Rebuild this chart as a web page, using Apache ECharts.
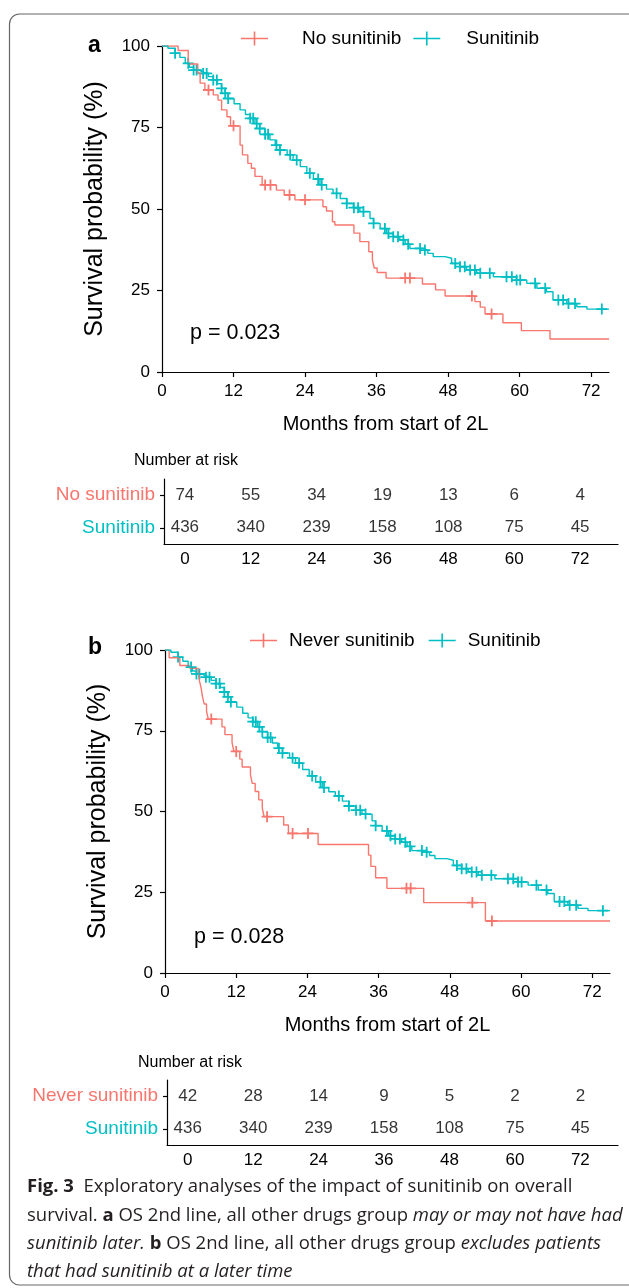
<!DOCTYPE html>
<html>
<head>
<meta charset="utf-8">
<script src="https://cdn.jsdelivr.net/npm/echarts@6/dist/echarts.min.js"></script>
<style>
  html, body { margin: 0; padding: 0; background: #fff; }
  #main { width: 629px; height: 1288px; }
</style>
</head>
<body>
<div id="main"></div>
<script>
// tick labels / table columns
var months = [0, 12, 24, 36, 48, 60, 72];

// number at risk
var riskA_no = [74, 55, 34, 19, 13, 6, 4];
var riskA_sun = [436, 340, 239, 158, 108, 75, 45];
var riskB_never = [42, 28, 14, 9, 5, 2, 2];
var riskB_sun = [436, 340, 239, 158, 108, 75, 45];

// KM curves: [month, survival %] after each drop
var survA_no = [[0,100],[2.7,98.6],[4.4,94.5],[6.0,91.7],[6.4,88.6],[7.2,86.5],[8.6,85],[9.4,83.4],
  [10,80.4],[10.9,78.3],[11.5,75.5],[13.1,69.6],[13.5,66.6],[14.4,64],[15,62.5],[15.6,60],[16.8,57.4],
  [19.2,55.8],[20.5,54.3],[22.3,52.8],[27,50.7],[27.6,49.4],[28.6,46.1],[29,45.1],[32.2,42.6],[33.2,40],
  [34.7,36.9],[35.3,34.4],[35.6,31.9],[36.1,30.5],[37.6,28.8],[43.7,27],[45.9,25.2],[47.5,23.3],
  [52.5,21.6],[53.4,19.9],[54.2,17.8],[57.2,15.1],[60.3,12.7],[65.1,10.1],[75,10.1]];

var survSun = [[0,100],[1,99.3],[2.2,97.8],[3,96.5],[3.9,94.7],[4.6,93.5],[5.3,92.6],[6.2,92],[6.9,91.6],
  [7.8,90.6],[8.6,89.6],[9.3,88.4],[10,87],[10.6,85.5],[11.1,83.9],[12.1,82.3],[13.1,80.4],[14,79],
  [14.8,77.8],[15.6,76.2],[16.4,74.7],[17.3,72.9],[18.1,71.2],[19,69.6],[19.8,68.1],[21,66.6],[22,65],
  [23.2,63],[24.3,61],[25.4,59.2],[26.5,57.4],[27.6,56.1],[28.7,54.8],[29.9,53.2],[31,51.7],[32.1,50.4],
  [33.2,49.2],[34.9,47.1],[35.5,45.6],[36.6,44],[37.7,42.5],[38.8,41.5],[39.9,40.5],[40.8,39.2],
  [41.6,37.9],[43.8,37.4],[44.6,36.4],[45.5,35.4],[47.5,34.9],[48.6,33.3],[50,32.3],[51.1,31.3],
  [52.8,30.3],[55.6,29.2],[59.5,28.2],[61.2,27.2],[62.9,25.7],[64.5,24.6],[65.6,22.1],[67.9,21],
  [69.6,20],[71.3,19.3],[75,19.3]];

var survB_never = [[0,100],[0.7,97.6],[2.5,95.2],[4.2,94.3],[5.6,93.2],[5.8,90.5],[6.1,88.1],[6.3,85.7],
  [6.6,83.3],[7.0,81],[7.3,78.6],[9.6,76.2],[10.1,73.8],[11.3,71.4],[11.6,68.6],[12.6,66.2],[13.0,63.8],
  [14.4,61.4],[14.7,58.7],[15.2,56.2],[15.8,53.6],[16.4,51],[16.7,48.4],[20,45.8],[20.8,43.2],
  [25.8,39.8],[34.3,36.5],[34.7,33],[35.5,29.5],[37.4,26.2],[43.6,21.8],[54,16.1],[75,16.1]];

// censoring times (months)
var censorA_no = [7.8, 12.0, 17.3, 18.2, 21.4, 24.0, 40.8, 41.6, 52.0, 55.3];
var censorB_never = [7.8, 12.0, 17.2, 21.5, 24.1, 40.7, 41.4, 51.8, 55.1];
var censorSun = [2.2, 4.4, 5.3, 5.8, 6.9, 7.5, 8.6, 9.2, 10, 10.6, 11.1, 14.8, 15.3, 15.9, 16.4, 17.3,
  17.8, 19.2, 19.8, 21.5, 22.6, 24.8, 26.2, 26.8, 29.3, 31, 32.2, 32.9, 33.8, 35.5, 37.4, 38, 38.8,
  39.6, 40.5, 41.3, 43.3, 44.1, 49.2, 50, 50.8, 51.7, 52.5, 53.4, 55, 57.8, 58.7, 59.5, 60.1, 62.6,
  64.3, 66.5, 67.3, 68.2, 69.3, 73.8];

var RED = "#F8766D";
var CYAN = "#00BFC4";
var FONT = "Liberation Sans";
var plusPath = "path://M4.6,0H6.4V11H4.6Z M0,4.6H11V6.4H0Z";
var legendIcon = "path://M0,6.2H27V7.8H0Z M12.7,0H14.3V14H12.7Z";

// survival value of a step curve at time t
function survAt(curve, t) {
  var s = curve[0][1];
  for (var i = 0; i < curve.length; i++) {
    if (curve[i][0] <= t) s = curve[i][1];
  }
  return s;
}
function censorPoints(curve, times) {
  return times.map(function (t) { return [t, survAt(curve, t)]; });
}
function riskPoints(names, rows) {
  var out = [];
  rows.forEach(function (row, r) {
    row.forEach(function (n, i) { out.push([months[i], names[r], n]); });
  });
  return out;
}

var blackLine = { color: "#000", width: 1.2 };
var labelStyle = { color: "#000", fontSize: 17, fontFamily: FONT, fontWeight: "normal" };

function kmX(gridIndex) {
  return {
    gridIndex: gridIndex, type: "value", min: 0, max: 75,
    axisLine: { onZero: false, lineStyle: blackLine },
    axisTick: { length: 5, lineStyle: blackLine, customValues: months },
    axisLabel: Object.assign({ margin: 11, customValues: months }, labelStyle),
    splitLine: { show: false },
    name: "Months from start of 2L", nameLocation: "middle", nameGap: 42,
    nameTextStyle: { color: "#000", fontSize: 20, fontFamily: FONT }
  };
}
function kmY(gridIndex) {
  return {
    gridIndex: gridIndex, type: "value", min: 0, max: 100, interval: 25,
    axisLine: { show: true, onZero: false, lineStyle: blackLine },
    axisTick: { show: true, length: 5, lineStyle: blackLine },
    axisLabel: Object.assign({ margin: 12 }, labelStyle),
    splitLine: { show: false },
    name: "Survival probability (%)", nameLocation: "middle", nameGap: 54,
    nameTextStyle: { color: "#000", fontSize: 25, fontFamily: FONT }
  };
}
function tableX(gridIndex) {
  return {
    gridIndex: gridIndex, type: "value", min: -3.8, max: 78.9,
    axisLine: { show: true, onZero: false, lineStyle: blackLine },
    axisTick: { length: 5, lineStyle: blackLine, customValues: months },
    axisLabel: Object.assign({ margin: 6.5, customValues: months }, labelStyle),
    splitLine: { show: false }
  };
}
function tableY(gridIndex, names) {
  return {
    gridIndex: gridIndex, type: "category", data: names,
    axisLine: { show: true, onZero: false, lineStyle: blackLine },
    axisTick: { show: true, alignWithLabel: true, length: 4, lineStyle: blackLine },
    axisLabel: {
      margin: 9,
      formatter: function (v) { return "{" + (v === "Sunitinib" ? "c" : "r") + "|" + v + "}"; },
      rich: {
        r: { color: RED, fontSize: 19, fontFamily: FONT },
        c: { color: CYAN, fontSize: 19, fontFamily: FONT }
      }
    }
  };
}
function kmLine(name, data, color, xi) {
  return {
    name: name, type: "line", step: "end", data: data, symbol: "none",
    xAxisIndex: xi, yAxisIndex: xi,
    lineStyle: { color: color, width: 1.4 }, itemStyle: { color: color }
  };
}
function censor(name, data, color, xi) {
  return {
    name: name, type: "scatter", data: data, symbol: plusPath, symbolSize: 11,
    xAxisIndex: xi, yAxisIndex: xi, itemStyle: { color: color, opacity: 1 }
  };
}
function riskSeries(data, xi) {
  return {
    type: "scatter", data: data, symbolSize: 0, xAxisIndex: xi, yAxisIndex: xi,
    label: {
      show: true, position: "inside", color: "#000", fontSize: 17, fontFamily: FONT,
      formatter: function (p) { return p.value[2]; }
    }
  };
}
function txt(text, x, y, size, extra) {
  return {
    type: "text", x: x, y: y,
    style: Object.assign({
      text: text, fill: "#000", fontSize: size, fontFamily: FONT,
      textVerticalAlign: "middle"
    }, extra || {})
  };
}

var CAP = 18.5;
var capRich = {
  b: { fontWeight: "bold", fontSize: CAP, fontFamily: "Open Sans", fill: "#231f20" },
  i: { fontStyle: "italic", fontSize: CAP, fontFamily: "Open Sans", fill: "#231f20" }
};
function capLine(text, y) {
  return {
    type: "text", x: 27, y: y,
    style: {
      text: text, fontSize: CAP, fontFamily: "Open Sans", fill: "#231f20",
      textVerticalAlign: "middle", rich: capRich
    }
  };
}

var chart = echarts.init(document.getElementById("main"));
var option = {
  animation: false,
  backgroundColor: "#fff",
  grid: [
    { left: 162, top: 46, width: 447, height: 326 },
    { left: 164, top: 479, width: 454, height: 65 },
    { left: 165, top: 650, width: 445, height: 323 },
    { left: 167, top: 1080, width: 451, height: 65 }
  ],
  xAxis: [kmX(0), tableX(1), kmX(2), tableX(3)],
  yAxis: [
    kmY(0),
    tableY(1, ["Sunitinib", "No sunitinib"]),
    kmY(2),
    tableY(3, ["Sunitinib", "Never sunitinib"])
  ],
  legend: [
    {
      left: 241, top: 29, padding: 0, itemWidth: 27, itemHeight: 14, itemGap: 12,
      data: [
        { name: "No sunitinib", icon: legendIcon },
        { name: "Sunitinib", icon: legendIcon, textStyle: { padding: [0, 0, 0, 21] } }
      ],
      textStyle: { color: "#000", fontSize: 19, fontFamily: FONT, padding: [0, 0, 0, 29] },
      selectedMode: false
    },
    {
      left: 250, top: 631, padding: 0, itemWidth: 27, itemHeight: 14, itemGap: 14,
      data: [{ name: "Never sunitinib", icon: legendIcon }, { name: "Sunitinib", icon: legendIcon }],
      textStyle: { color: "#000", fontSize: 19, fontFamily: FONT, padding: [0, 0, 0, 7] },
      selectedMode: false
    }
  ],
  series: [
    kmLine("No sunitinib", survA_no, RED, 0),
    kmLine("Sunitinib", survSun, CYAN, 0),
    censor("cA_no", censorPoints(survA_no, censorA_no), RED, 0),
    censor("cA_sun", censorPoints(survSun, censorSun), CYAN, 0),
    riskSeries(riskPoints(["No sunitinib", "Sunitinib"], [riskA_no, riskA_sun]), 1),
    kmLine("Never sunitinib", survB_never, RED, 2),
    kmLine("Sunitinib", survSun, CYAN, 2),
    censor("cB_never", censorPoints(survB_never, censorB_never), RED, 2),
    censor("cB_sun", censorPoints(survSun, censorSun), CYAN, 2),
    riskSeries(riskPoints(["Never sunitinib", "Sunitinib"], [riskB_never, riskB_sun]), 3)
  ],
  graphic: [
    {
      type: "rect", shape: { x: 9.5, y: 14, width: 630, height: 1271, r: 10 },
      style: { fill: "none", stroke: "#666", lineWidth: 1.2 }
    },
    txt("a", 88, 46, 23, { fontWeight: "bold" }),
    txt("b", 88, 648, 23, { fontWeight: "bold" }),
    txt("p = 0.023", 190, 333, 21.5),
    txt("p = 0.028", 194, 937, 21.5),
    txt("Number at risk", 134, 461, 16),
    txt("Number at risk", 138, 1063, 16),
    capLine("{b|Fig. 3}  Exploratory analyses of the impact of sunitinib on overall", 1187),
    capLine("survival. {b|a} OS 2nd line, all other drugs group {i|may or may not have had}", 1216),
    capLine("{i|sunitinib later.} {b|b} OS 2nd line, all other drugs group {i|excludes patients}", 1244),
    capLine("{i|that had sunitinib at a later time}", 1272)
  ]
};
chart.setOption(option);
</script>
</body>
</html>
